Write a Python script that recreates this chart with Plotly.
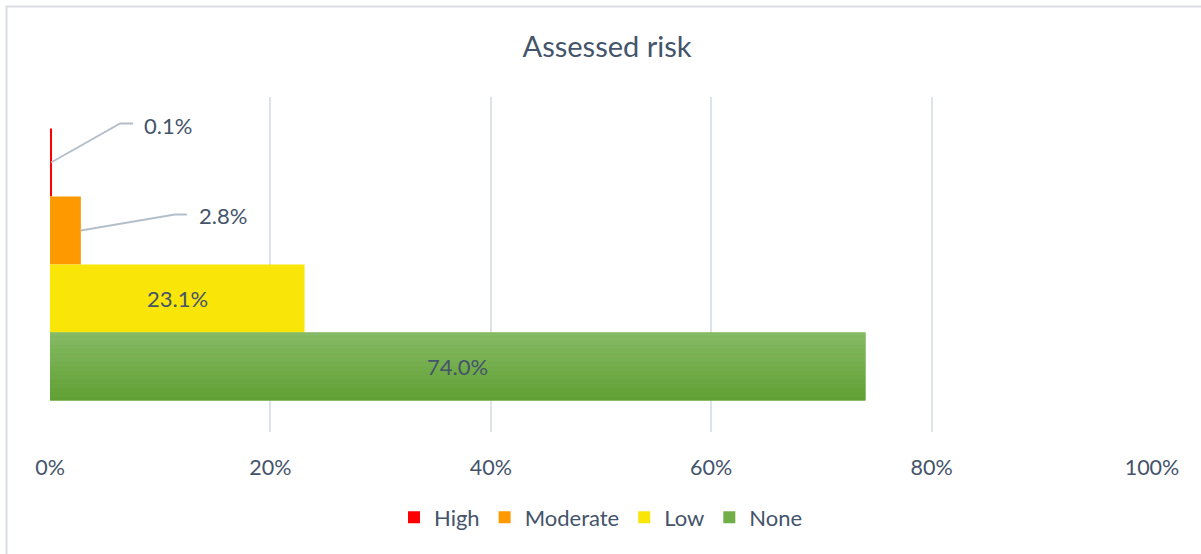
import plotly.graph_objects as go

# Assessed risk distribution (% of cases)
categories = ["High", "Moderate", "Low", "None"]
values = [0.1, 2.8, 23.1, 74.0]
colors = ["#FF0000", "#FF9900", "#F9E508", "#72AE47"]
tick_vals = [0, 20, 40, 60, 80, 100]
tick_text = ["0%", "20%", "40%", "60%", "80%", "100%"]

FONT = "Lato"
TEXT = "#44546A"
GRID = "#DEE2E9"
LEADER = "#B4BECB"
ROW = "Assessed risk"

# clustered layout inside the single category band
gap = 0.188
w = (1 - gap) / len(categories)
start = -(1 - gap) / 2

fig = go.Figure()


def lerp(c1, c2, t):
    a = [int(c1[i:i + 2], 16) for i in (1, 3, 5)]
    b = [int(c2[i:i + 2], 16) for i in (1, 3, 5)]
    return "#" + "".join(f"{round(a[k] + (b[k] - a[k]) * t):02X}" for k in range(3))


for i, (cat, val, col) in enumerate(zip(categories, values, colors)):
    off = start + i * w
    fig.add_trace(go.Bar(
        y=[ROW], x=[val], orientation="h", name=cat,
        marker=dict(color=col, line=dict(width=0)),
        offset=off, width=w, hoverinfo="skip",
    ))
    if cat == "None":
        # vertical shading of the green bar
        n = 16
        for j in range(n):
            fig.add_trace(go.Bar(
                y=[ROW], x=[val], orientation="h", showlegend=False,
                marker=dict(color=lerp("#85BA64", "#61A034", j / (n - 1)), line=dict(width=0)),
                offset=off + j * w / n, width=w / n * 1.02, hoverinfo="skip",
            ))

annotations = []
shapes = []
# labels for the two narrow bars sit outside with leader lines
callouts = {0: (69, 39, 82, 91, 37), 1: (94, 16, 106, 116, 15)}
for i, (cat, val) in enumerate(zip(categories, values)):
    yc = start + i * w + w / 2
    label = f"{val:.1f}%"
    if i in callouts:
        ex, ey, hx, tx, ty = callouts[i]
        shapes.append(dict(
            type="path", xref="x", yref="y", xsizemode="pixel", ysizemode="pixel",
            xanchor=val, yanchor=yc,
            path=f"M0,0 L{ex},{ey} L{hx},{ey}",
            line=dict(color=LEADER, width=1.8),
        ))
        annotations.append(dict(
            x=val, y=yc, xref="x", yref="y", text=label, showarrow=False,
            xanchor="left", yanchor="middle", xshift=tx, yshift=ty,
            font=dict(family=FONT, size=22, color=TEXT),
        ))
    else:
        annotations.append(dict(
            x=val / 2, y=yc, xref="x", yref="y", text=label, showarrow=False,
            xanchor="center", yanchor="middle",
            font=dict(family=FONT, size=22, color=TEXT),
        ))

# chart frame
shapes.append(dict(
    type="rect", xref="paper", yref="paper",
    x0=(6.5 - 50) / 1102, x1=1.2, y0=-0.6, y1=(432 - 6.5) / 335,
    line=dict(color="#D9DDE4", width=2), fillcolor="rgba(0,0,0,0)", layer="below",
))

fig.update_layout(
    width=1201, height=554,
    margin=dict(l=50, r=49, t=97, b=122),
    paper_bgcolor="white", plot_bgcolor="white",
    barmode="overlay",
    title=dict(text="Assessed risk", x=607 / 1201, xanchor="center",
               y=1 - 47 / 554, yanchor="middle",
               font=dict(family=FONT, size=29, color=TEXT)),
    xaxis=dict(range=[0, 100], tickvals=tick_vals, ticktext=tick_text,
               showgrid=True, gridcolor=GRID, gridwidth=1.5, zeroline=False,
               showline=False, ticks="", ticklabelstandoff=20,
               tickfont=dict(family=FONT, size=21.5, color=TEXT)),
    yaxis=dict(type="category", autorange="reversed", showticklabels=False,
               showgrid=False, zeroline=False, showline=False, ticks=""),
    legend=dict(orientation="h", x=0.5, xanchor="center", y=-0.255, yanchor="middle",
                font=dict(family=FONT, size=22, color=TEXT), itemwidth=30,
                traceorder="normal"),
    annotations=annotations,
    shapes=shapes,
)

fig.write_html("out.html")
